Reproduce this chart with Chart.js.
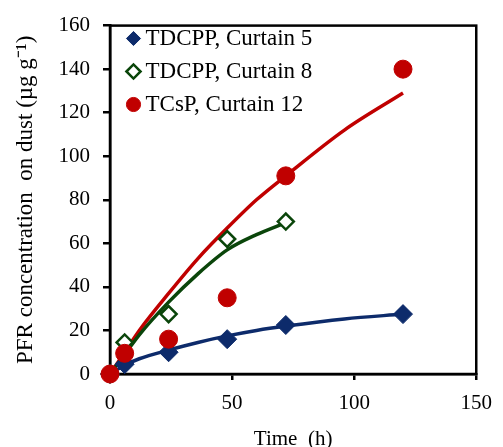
<!DOCTYPE html>
<html>
<head>
<meta charset="utf-8">
<script src="https://cdn.jsdelivr.net/npm/chart.js@4/dist/chart.umd.min.js"></script>
<style>
  body { margin: 0; background: #fff; }
  canvas { display: block; }
</style>
</head>
<body>
<canvas id="mainCanvas" width="503" height="447"></canvas>
<script>
// measured points (time in h, concentration in ug/g)
const seriesNames = ['TDCPP, Curtain 5', 'TDCPP, Curtain 8', 'TCsP, Curtain 12'];

const c5Time = [0, 6, 24, 48, 72, 120];
const c5Values = [0, 4.5, 10, 16, 22.5, 27.5];

const c8Time = [0, 6, 24, 48, 72];
const c8Values = [0, 14.5, 27.5, 62, 70];

const c12Time = [0, 6, 24, 48, 72, 120];
const c12Values = [0, 9.5, 16, 35, 91, 140];

// fitted curves
const c5FitTime = [0, 6, 12, 24, 36, 48, 60, 72, 96, 120];
const c5FitValues = [0, 4, 7, 11, 14.5, 17.5, 20, 22, 25.3, 27.5];

const c8FitTime = [0, 6, 12, 24, 36, 48, 60, 72];
const c8FitValues = [0, 9, 18, 33, 46, 57, 64, 69.5];

const c12FitTime = [0, 6, 12, 24, 36, 48, 60, 72, 96, 120];
const c12FitValues = [0, 10, 20, 37, 53, 67, 80, 91, 112, 129];

const xTicks = [0, 50, 100, 150];
const yTicks = [0, 20, 40, 60, 80, 100, 120, 140, 160];

const blue = '#0d2b6b';
const green = '#0a450a';
const red = '#c00000';

function toPoints(xs, ys) {
  return xs.map((x, i) => ({ x, y: ys[i] }));
}

function fitLine(xs, ys, color) {
  return {
    data: toPoints(xs, ys),
    showLine: true,
    borderColor: color,
    borderWidth: 3.5,
    pointRadius: 0,
    cubicInterpolationMode: 'monotone',
    order: 5
  };
}

// box round the plot area
const frame = {
  id: 'frame',
  beforeDatasetsDraw(chart) {
    const a = chart.chartArea;
    const c = chart.ctx;
    c.save();
    c.strokeStyle = '#000';
    c.lineWidth = 2.5;
    c.strokeRect(a.left, a.top, a.right - a.left, a.bottom - a.top);
    c.restore();
  }
};

// nudge the in-plot legend away from the corner
const legendNudge = {
  id: 'legendNudge',
  afterLayout(chart) {
    if (!chart.legend) return;
    chart.legend.left += 13;
    chart.legend.top += 17;
  }
};

const serif = 'Liberation Serif, Times New Roman, serif';

new Chart(document.getElementById('mainCanvas'), {
  type: 'scatter',
  data: {
    datasets: [
      {
        label: seriesNames[0],
        data: toPoints(c5Time, c5Values),
        pointStyle: 'rectRot',
        pointRadius: 9.5,
        backgroundColor: blue,
        borderColor: blue,
        borderWidth: 1,
        order: 2
      },
      {
        label: seriesNames[1],
        data: toPoints(c8Time, c8Values),
        pointStyle: 'rectRot',
        pointRadius: 8,
        backgroundColor: '#fff',
        borderColor: green,
        borderWidth: 2.5,
        order: 1
      },
      {
        label: seriesNames[2],
        data: toPoints(c12Time, c12Values),
        pointStyle: 'circle',
        pointRadius: 9,
        backgroundColor: red,
        borderColor: red,
        borderWidth: 1,
        order: 0
      },
      fitLine(c5FitTime, c5FitValues, blue),
      fitLine(c8FitTime, c8FitValues, green),
      fitLine(c12FitTime, c12FitValues, red)
    ].map(ds => Object.assign(ds, { clip: false }))
  },
  options: {
    responsive: false,
    animation: false,
    layout: { padding: { left: 0, top: 18, right: 23, bottom: 0 } },
    plugins: {
      tooltip: { enabled: false },
      legend: {
        position: 'chartArea',
        align: 'start',
        labels: {
          filter: item => item.datasetIndex < 3,
          sort: (a, b) => a.datasetIndex - b.datasetIndex,
          usePointStyle: true,
          boxWidth: 1,
          boxHeight: 10,
          padding: 10,
          color: '#000',
          font: { family: serif, size: 23 }
        }
      }
    },
    scales: {
      x: {
        type: 'linear',
        min: 0,
        max: 150,
        afterFit: s => { s.height = 73; },
        afterBuildTicks: s => { s.ticks = xTicks.map(v => ({ value: v })); },
        border: { display: true, color: '#000', width: 2.5 },
        grid: { display: true, drawOnChartArea: false, color: '#000', lineWidth: 2.5, tickLength: 6 },
        ticks: { color: '#000', padding: 11, font: { family: serif, size: 21 } },
        title: {
          display: true,
          text: 'Time  (h)',
          color: '#000',
          padding: 0,
          font: { family: serif, size: 21, lineHeight: 0.7 }
        }
      },
      y: {
        min: 0,
        max: 160,
        afterFit: s => { s.width = 110; },
        afterBuildTicks: s => { s.ticks = yTicks.map(v => ({ value: v })); },
        border: { display: true, color: '#000', width: 2.5 },
        grid: { display: true, drawOnChartArea: false, color: '#000', lineWidth: 2.5, tickLength: 7 },
        ticks: { color: '#000', padding: 13, font: { family: serif, size: 21 } },
        title: {
          display: true,
          text: 'PFR concentration  on dust (µg g⁻¹)',
          color: '#000',
          padding: { top: 12, bottom: 0 },
          font: { family: serif, size: 23 }
        }
      }
    }
  },
  plugins: [frame, legendNudge]
});
</script>
</body>
</html>
